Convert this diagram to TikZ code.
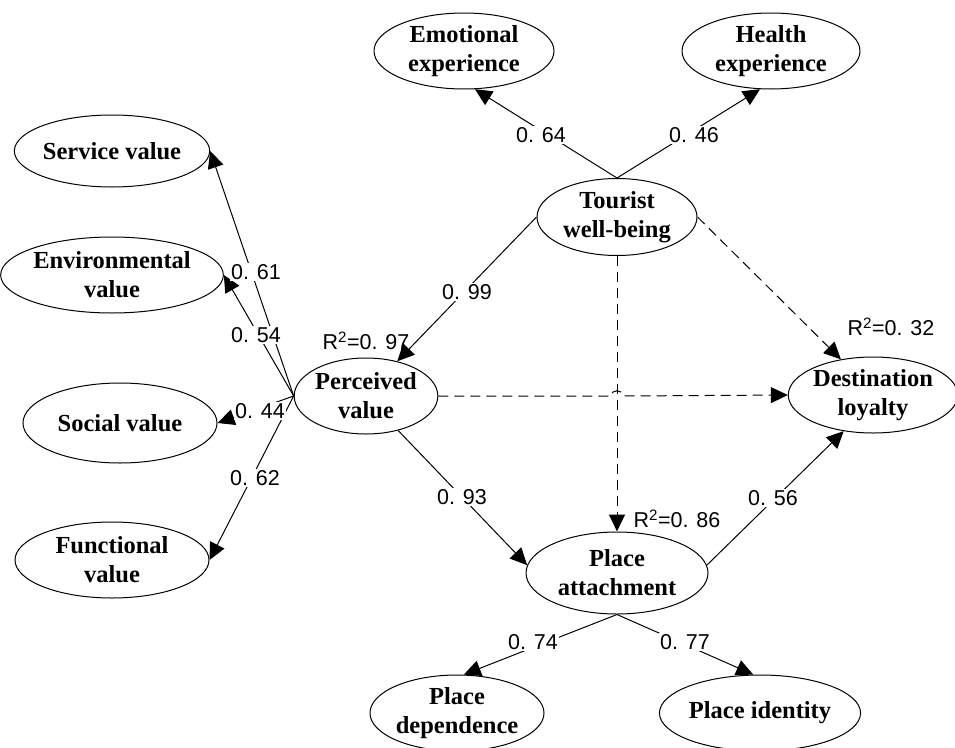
\documentclass[tikz,border=0pt]{standalone}
\usepackage{fontspec}
\setmainfont{Liberation Serif}
\newfontfamily\numfont{Liberation Sans}
\usetikzlibrary{shapes.geometric,arrows.meta}
\begin{document}
\begin{tikzpicture}[x=1pt,y=-1pt,
  lat/.style={ellipse,draw,line width=1pt,inner sep=0pt,align=center,
    font=\fontsize{24.5}{29}\selectfont\bfseries},
  coef/.style={fill=white,inner sep=1.5pt,font=\fontsize{21.5}{23}\selectfont\numfont},
  rsq/.style={inner sep=0pt,font=\fontsize{21.5}{23}\selectfont\numfont},
  arr/.style={line width=1pt,-{Triangle[length=17pt,width=16pt]}},
  darr/.style={arr,dash pattern=on 10pt off 6pt}]
\useasboundingbox (0,0) rectangle (955,747);
% latent variables
\node[lat,minimum width=194pt,minimum height=72pt] (SV) at (112,151) {Service value};
\node[lat,minimum width=194pt,minimum height=76pt] (EV) at (112,275) {Environmental\\value};
\node[lat,minimum width=194pt,minimum height=80pt] (SO) at (120,423) {Social value};
\node[lat,minimum width=194pt,minimum height=76pt] (FV) at (112,560) {Functional\\value};
\node[lat,minimum width=132pt,minimum height=76pt] (PV) at (366,396) {Perceived\\value};
\node[lat,minimum width=180pt,minimum height=76pt] (EE) at (464,51) {Emotional\\experience};
\node[lat,minimum width=178pt,minimum height=76pt] (HE) at (771,51) {Health\\experience};
\node[lat,minimum width=160pt,minimum height=77pt] (TW) at (617,217) {Tourist\\well-being};
\node[lat,minimum width=154pt,minimum height=76pt] (DL) at (873,395) {Destination\\loyalty};
\node[lat,minimum width=182pt,minimum height=82pt] (PA) at (617,573) {Place\\attachment};
\node[lat,minimum width=174pt,minimum height=76pt] (PD) at (457,713) {Place\\dependence};
\node[lat,minimum width=176pt,minimum height=76pt] (PI) at (760,713) {Place identity};
% paths
\draw[arr] (PV.west) -- (SV.east);
\draw[arr] (PV.west) -- (EV.east);
\draw[arr] (PV.west) -- (SO.east);
\draw[arr] (PV.west) -- (FV.east);
\draw[arr] (TW.north) -- (EE.-74);
\draw[arr] (TW.north) -- (HE.-106);
\draw[arr] (TW.west) -- (PV.48);
\draw[darr] (TW.east) -- (DL.132);
\draw[darr] (TW.south) -- (PA.north);
\draw[darr] (PV.east) -- (611,396) .. controls (611,389) and (623,389) .. (623,396) -- (DL.west);
\draw[arr] (PV.-47) -- (PA.175);
\draw[arr] (PA.5) -- (DL.231);
\draw[arr] (PA.south) -- (PD.80);
\draw[arr] (PA.south) -- (PI.100);
% coefficients
\node[coef] (c1) at (256,272) {0. 61};
\node[coef] (c2) at (256,335) {0. 54};
\node[coef] (c3) at (260,411) {0. 44};
\node[coef] (c4) at (255,478) {0. 62};
\node[coef] (c5) at (541,135) {0. 64};
\node[coef] (c6) at (694,135) {0. 46};
\node[coef] (c7) at (467,292) {0. 99};
\node[coef] (c8) at (462,497) {0. 93};
\node[coef] (c9) at (773,498) {0. 56};
\node[coef] (c10) at (533,642) {0. 74};
\node[coef] (c11) at (685,642) {0. 77};
\node[rsq] (r1) at (366,341) {R\textsuperscript{2}=0. 97};
\node[rsq] (r2) at (677,519) {R\textsuperscript{2}=0. 86};
\node[rsq] (r3) at (891,327) {R\textsuperscript{2}=0. 32};
\end{tikzpicture}
\end{document}
